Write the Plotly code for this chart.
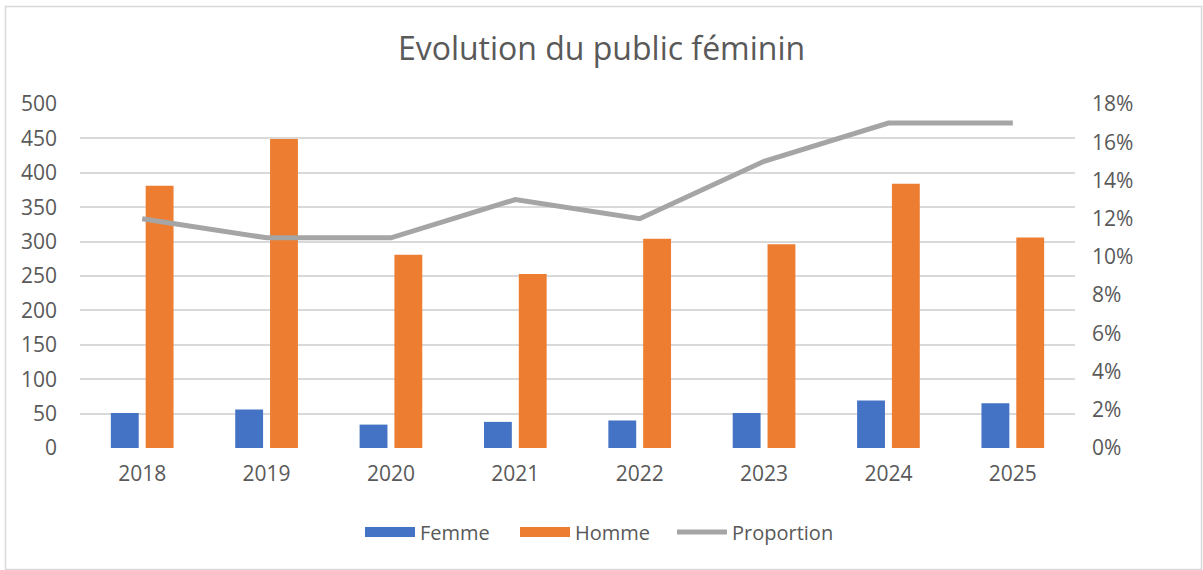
import plotly.graph_objects as go

years = ["2018", "2019", "2020", "2021", "2022", "2023", "2024", "2025"]
femme = [51, 56, 34, 38, 40, 51, 69, 65]
homme = [381, 449, 281, 253, 304, 296, 384, 306]
proportion = [0.12, 0.11, 0.11, 0.13, 0.12, 0.15, 0.17, 0.17]

W, H = 1203, 570
L, R, T, B = 80, 128, 104, 122
pw, ph = W - L - R, H - T - B

def px2x(px):
    return (px - L) / pw

def px2y(py):
    return 1 - (py - T) / ph

font_family = "Open Sans, Noto Sans, sans-serif"
grey_txt = "#595959"
c_f, c_h, c_p = "#4472c4", "#ed7d31", "#a5a5a5"

fig = go.Figure()
fig.add_trace(go.Bar(x=years, y=femme, name="Femme", legendgroup="f", showlegend=False,
                     marker=dict(color=c_f, line=dict(width=0))))
fig.add_trace(go.Bar(x=years, y=homme, name="Homme", legendgroup="h", showlegend=False,
                     marker=dict(color=c_h, line=dict(width=0))))
fig.add_trace(go.Scatter(x=years, y=proportion, name="Proportion", yaxis="y2", mode="lines",
                         legendgroup="p", showlegend=False,
                         line=dict(color=c_p, width=5)))
# legend entries (wide swatches like the original)
fig.add_trace(go.Scatter(x=[None], y=[None], name="Femme", legendgroup="f", mode="lines",
                         legend="legend", line=dict(color=c_f, width=13)))
fig.add_trace(go.Scatter(x=[None], y=[None], name="Homme", legendgroup="h", mode="lines",
                         legend="legend2", line=dict(color=c_h, width=13)))
fig.add_trace(go.Scatter(x=[None], y=[None], name="Proportion", legendgroup="p", mode="lines",
                         legend="legend3", yaxis="y2", line=dict(color=c_p, width=5)))

def leg(xpx):
    return dict(orientation="h", x=xpx / W, xref="container", xanchor="left",
                y=px2y(532), yanchor="middle", bgcolor="rgba(0,0,0,0)",
                font=dict(size=20, color=grey_txt), itemwidth=50)

fig.update_layout(
    width=W, height=H,
    margin=dict(l=L, r=R, t=T, b=B, autoexpand=False),
    paper_bgcolor="white", plot_bgcolor="white",
    font=dict(family=font_family, size=20, color=grey_txt),
    barmode="group", bargap=0.44, bargroupgap=0.2,
    title=dict(text="Evolution du public féminin", x=0.5, xref="container", xanchor="center",
               y=1 - 49 / H, yref="container", yanchor="middle",
               font=dict(size=32, color=grey_txt)),
    xaxis=dict(showgrid=False, showline=False, ticks="", ticklabelstandoff=11,
               tickfont=dict(size=21, color=grey_txt)),
    yaxis=dict(range=[0, 500], dtick=50, showgrid=True, gridcolor="#d9d9d9", gridwidth=1.5,
               zeroline=False, showline=False, ticks="", ticklabelstandoff=22,
               tickfont=dict(size=21, color=grey_txt)),
    yaxis2=dict(range=[0, 0.18], dtick=0.02, tickformat=".0%", overlaying="y", side="right",
                showgrid=False, zeroline=False, showline=False, ticks="", ticklabelstandoff=16,
                tickfont=dict(size=21, color=grey_txt)),
    legend=leg(360),
    legend2=leg(515),
    legend3=leg(672),
    showlegend=True,
    shapes=[dict(type="rect", xref="paper", yref="paper",
                 x0=px2x(5.5), x1=px2x(1201.5), y0=px2y(569.5), y1=px2y(6.5),
                 line=dict(color="#d9d9d9", width=1.5), fillcolor="rgba(0,0,0,0)", layer="below")],
)

fig.write_html("out.html", config={"displayModeBar": False},
               post_script="document.body.style.margin='0';")
